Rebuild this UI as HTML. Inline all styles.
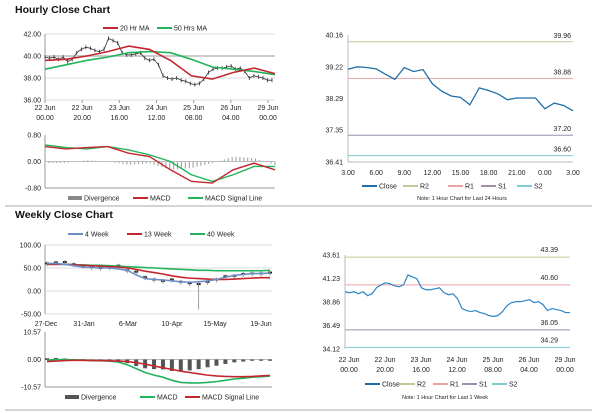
<!DOCTYPE html>
<html><head><meta charset="utf-8"><style>
body{margin:0;background:#fff;}
svg{display:block;font-family:"Liberation Sans",sans-serif;}
</style></head><body>
<svg id="s" width="600" height="413" viewBox="0 0 600 413" xmlns="http://www.w3.org/2000/svg">
<text x="15" y="13" font-size="10.5" font-weight="bold" fill="#111">Hourly Close Chart</text>
<text x="15" y="218" font-size="10.5" font-weight="bold" fill="#111">Weekly Close Chart</text>
<line x1="5" y1="206" x2="592" y2="206" stroke="#aaa" stroke-width="1"/>
<line x1="5" y1="410" x2="592" y2="410" stroke="#aaa" stroke-width="1"/>
</svg>
<script>
// ---------- data ----------
const hourCloseWeek = [39.9,39.8,39.9,39.7,39.9,39.5,39.7,40.3,40.6,40.8,40.7,40.5,40.4,40.6,41.6,41.4,41.2,40.3,40.1,40.1,40.2,40.3,39.8,39.6,39.7,39.2,38.2,38.0,37.9,38.0,37.8,37.7,37.5,37.4,37.5,37.9,38.5,38.8,38.9,38.9,39.0,39.1,38.8,38.9,38.6,38.0,38.2,38.1,38.0,37.8,37.8];
const ma20 = [39.6,39.7,40.0,40.4,40.9,40.6,39.6,38.2,37.9,38.5,38.9,38.4];
const ma50 = [38.8,39.2,39.6,39.9,40.3,40.4,40.3,39.7,39.0,38.8,38.6,38.3];
const macdH = [0.45,0.38,0.42,0.45,0.25,0.15,-0.25,-0.6,-0.65,-0.25,-0.05,-0.25];
const signalH = [0.5,0.42,0.38,0.45,0.35,0.2,0.0,-0.4,-0.6,-0.4,-0.15,-0.15];
const hourLabels1 = ["22 Jun","22 Jun","23 Jun","24 Jun","25 Jun","26 Jun","29 Jun"];
const hourLabels2 = ["00.00","20.00","16.00","12.00","08.00","04.00","00.00"];
const close24 = [39.15,39.22,39.20,39.16,39.0,38.85,39.20,39.08,39.14,38.72,38.5,38.36,38.32,38.10,38.60,38.52,38.42,38.25,38.30,38.30,38.30,37.98,38.15,38.08,37.92];
const ticks24 = ["3.00","6.00","9.00","12.00","15.00","18.00","21.00","0.00","3.00"];
const levels24 = [39.96,38.88,37.20,36.60];
const levelsWeek = [43.39,40.60,36.05,34.29];
const weekClose = [60,62,63,58,55,52,50,52,55,45,42,30,25,22,25,20,17,15,20,25,32,33,37,38,38,40];
const week4 = [60,60,58,55,52,51,50,50,48,45,35,27,25,24,22,20,19,20,22,25,30,34,36,38,38,39];
const week13 = [58,58,58,57,56,55,54,53,52,50,47,43,40,37,33,30,28,27,26,25,25,26,27,28,29,29];
const week40 = [58,58,58,57,57,56,56,55,54,53,52,51,50,49,48,47,46,45,45,44,44,44,44,44,44,45];
const macdW = [-0.3,0,0,-0.1,-0.2,-0.4,-0.5,-0.6,-1.0,-2.0,-3.5,-5,-6,-6.8,-8,-8.8,-9,-9,-8.8,-8.5,-8,-7.5,-7.2,-6.8,-6.6,-6.4];
const signalW = [-0.8,-0.6,-0.4,-0.3,-0.3,-0.4,-0.4,-0.5,-0.6,-0.8,-1.2,-1.8,-2.5,-3.2,-3.8,-4.5,-5,-5.5,-6,-6.3,-6.5,-6.6,-6.6,-6.5,-6.3,-6.1];
const weekLabels = ["27-Dec","31-Jan","6-Mar","10-Apr","15-May","19-Jun"];

const S = document.getElementById('s');
const NS = "http://www.w3.org/2000/svg";
function mk(tag, attrs){const e=document.createElementNS(NS,tag);for(const k in attrs)e.setAttribute(k,attrs[k]);S.appendChild(e);return e;}
function lin(x0,x1,n){return i=>x0+(x1-x0)*i/(n-1);}
function sc(v0,v1,p0,p1){return v=>p0+(v-v0)*(p1-p0)/(v1-v0);}
function poly(arr,fx,fy,col,w,name){const e=mk('polyline',{points:arr.map((v,i)=>fx(i)+','+fy(v)).join(' '),fill:'none',stroke:col,'stroke-width':w});


return e;}
function txt(x,y,s,anchor,size,name){const e=mk('text',{x:x,y:y,'font-size':size||7,'text-anchor':anchor||'start',fill:'#222'});e.textContent=s;


return e;}
function hl(x1,x2,y,col,w,name){const e=mk('line',{x1:x1,x2:x2,y1:y,y2:y,stroke:col,'stroke-width':w||1});


return e;}
function vl(x,y1,y2,col,w,name){const e=mk('line',{x1:x,x2:x,y1:y1,y2:y2,stroke:col,'stroke-width':w||1});


return e;}
function legLine(x,y,col,label,name){hl(x,x+15,y,col,2,name+'-swatch');txt(x+17,y+2.5,label,'start',7,name+'-label');}
function legBox(x,y,col,label,name){const r=mk('rect',{x:x,y:y-2,width:14,height:4,fill:col});


txt(x+16,y+2.5,label,'start',7,name+'-label');}

const RED='#c4262e', GREEN='#22b35b';
// ---------- hourly top-left ----------
{const x0=45,x1=275,y=sc(36,42,100,34);
[42,40,38,36].forEach(v=>{hl(x0,x1,y(v),v==40?'#ccc':'#ddd',v==40?2:1,'hourly-gridline');txt(x0-4,y(v)+2.5,v.toFixed(2),'end',7,'hourly-y-tick');});
vl(x0,34,100,'#999',1,'hourly-y-axis');
const fx=lin(x0,272,hourCloseWeek.length);
poly(hourCloseWeek,fx,y,'#333',0.8,'hourly-close-candles');
hourCloseWeek.forEach((v,i)=>{vl(fx(i),y(v)-2,y(v)+2,'#333',0.8,'hourly-candle');});
const fm=lin(x0,x1,ma20.length);
poly(ma50,fm,y,GREEN,1.6,'ma50-line');poly(ma20,fm,y,RED,1.6,'ma20-line');
const fl=lin(x0,268,hourLabels1.length);
hourLabels1.forEach((s,i)=>{txt(fl(i),110,s,'middle',7,'hourly-x-tick');txt(fl(i),120,hourLabels2[i],'middle',7,'hourly-x-tick');vl(fl(i),100,103,'#999',1,'hourly-x-tickmark');});
legLine(103,28,RED,'20 Hr MA','legend-ma20');legLine(157,28,GREEN,'50 Hrs MA','legend-ma50');
// macd
const ym=sc(-0.8,0.8,188,135);
[0.8,0,-0.8].forEach(v=>txt(x0-4,ym(v)+2.5,v.toFixed(2),'end',7,'macd-y-tick'));
vl(x0,135,188,'#999',1,'macd-y-axis');hl(x0,x1,188,'#999',1,'macd-x-axis');
const n=60, fd=lin(x0,x1,n);
for(let i=0;i<n;i++){const t=i/(n-1)*(macdH.length-1),k=Math.floor(t),f=t-k,k2=Math.min(k+1,macdH.length-1);
 const d=(macdH[k]*(1-f)+macdH[k2]*f)-(signalH[k]*(1-f)+signalH[k2]*f);
 vl(fd(i),ym(0),ym(d),'#999',1,'divergence-bar');}
hl(x0,x1,ym(0),'#bbb',1,'macd-zero-line');
poly(signalH,fm,ym,GREEN,1.4,'macd-signal-line');poly(macdH,fm,ym,RED,1.4,'macd-line');
legBox(68,198,'#888','Divergence','legend-divergence');legLine(133,198,RED,'MACD','legend-macd');legLine(188,198,GREEN,'MACD Signal Line','legend-signal');
}
// ---------- 24h top-right ----------
{const x0=348,x1=573,y=sc(36.41,40.16,162,35);
vl(x0,35,162,'#bbb',1,'h24-y-axis');hl(x0,x1,162,'#bbb',1,'h24-x-axis');
[40.16,39.22,38.29,37.35,36.41].forEach(v=>txt(x0-5,y(v)+2.5,v.toFixed(2),'end',7,'h24-y-tick'));
const cols=['#c8c89a','#e8a3a3','#9e8fad','#7fc8d6'],nm=['r2','r1','s1','s2'];
levels24.forEach((v,i)=>{hl(x0,x1,y(v),cols[i],1,'h24-'+nm[i]+'-line');txt(x1-2,y(v)-4,v.toFixed(2),'end',7,'h24-'+nm[i]+'-label');});
poly(close24,lin(x0,x1,close24.length),y,'#1f6fa8',1.3,'h24-close-line');
const ft=lin(x0,x1,ticks24.length);ticks24.forEach((s,i)=>txt(ft(i),175,s,'middle',7,'h24-x-tick'));
legLine(362,186,'#1f6fa8','Close','legend-close');legLine(403,186,cols[0],'R2','legend-r2');legLine(448,186,cols[1],'R1','legend-r1');legLine(481,186,cols[2],'S1','legend-s1');legLine(517,186,cols[3],'S2','legend-s2');
txt(462,200,'Note: 1 Hour Chart for Last 24 Hours','middle',5.5,'h24-note');
}
// ---------- weekly bottom-left ----------
{const x0=45,x1=272,y=sc(-50,100,314,245);
[100,50,0,-50].forEach(v=>{txt(x0-4,y(v)+2.5,v.toFixed(2),'end',7,'weekly-y-tick');hl(x0,x1,y(v),'#ddd',1,'weekly-gridline');});
vl(x0,245,314,'#999',1,'weekly-y-axis');
const fx=lin(x0+2,x1-2,weekClose.length);
weekClose.forEach((v,i)=>{hl(fx(i)-2,fx(i)+2,y(v),'#222',2,'weekly-close-mark');vl(fx(i),y(v)-2,y(v)+3,'#888',0.8,'weekly-wick');});
vl(fx(17),y(weekClose[17]),y(-40),'#888',0.8,'weekly-low-spike');
poly(week40,fx,y,GREEN,1.6,'week40-line');poly(week13,fx,y,RED,1.6,'week13-line');poly(week4,fx,y,'#6d8fc7',1.6,'week4-line');
const fl=[46,84,128,172,215,261];weekLabels.forEach((s,i)=>txt(fl[i],326,s,'middle',7,'weekly-x-tick'));
legLine(68,234,'#6d8fc7','4 Week','legend-4week');legLine(127,234,RED,'13 Week','legend-13week');legLine(190,234,GREEN,'40 Week','legend-40week');
const ym=sc(-10.57,10.57,387,332);
[10.57,0,-10.57].forEach(v=>txt(x0-4,ym(v)+2.5,v.toFixed(2),'end',7,'weekly-macd-y-tick'));
vl(x0,332,387,'#999',1,'weekly-macd-y-axis');hl(x0,x1,387,'#999',1,'weekly-macd-x-axis');hl(x0,x1,ym(0),'#bbb',1,'weekly-macd-zero');
macdW.forEach((v,i)=>{const d=v-signalW[i];const r=mk('rect',{x:fx(i)-2,y:Math.min(ym(0),ym(d)),width:4,height:Math.abs(ym(d)-ym(0))+0.5,fill:'#555'});

});
poly(macdW,fx,ym,GREEN,1.6,'weekly-macd-line');poly(signalW,fx,ym,RED,1.6,'weekly-signal-line');
legBox(65,397,'#555','Divergence','legend-weekly-divergence');legLine(140,397,GREEN,'MACD','legend-weekly-macd');legLine(185,397,RED,'MACD Signal Line','legend-weekly-signal');
}
// ---------- week hourly bottom-right ----------
{const x0=345,x1=570,y=sc(34.12,43.61,349,255);
vl(x0,255,349,'#bbb',1,'wk-y-axis');
[43.61,41.23,38.86,36.49,34.12].forEach(v=>txt(x0-5,y(v)+2.5,v.toFixed(2),'end',7,'wk-y-tick'));
const cols=['#c8c89a','#e8a3a3','#9e8fad','#7fc8d6'],nm=['r2','r1','s1','s2'];
levelsWeek.forEach((v,i)=>{hl(x0,x1,y(v),cols[i],1,'wk-'+nm[i]+'-line');txt(x1-12,y(v)-5,v.toFixed(2),'end',7,'wk-'+nm[i]+'-label');});
poly(hourCloseWeek,lin(x0,x1,hourCloseWeek.length),y,'#2a86c8',1.2,'wk-close-line');
const fl=lin(349,565,hourLabels1.length);
hourLabels1.forEach((s,i)=>{txt(fl(i),362,s,'middle',7,'wk-x-tick');txt(fl(i),372,hourLabels2[i],'middle',7,'wk-x-tick');});
legLine(365,384,'#1f6fa8','Close','legend-wk-close');legLine(400,384,cols[0],'R2','legend-wk-r2');legLine(433,384,cols[1],'R1','legend-wk-r1');legLine(462,384,cols[2],'S1','legend-wk-s1');legLine(492,384,cols[3],'S2','legend-wk-s2');
txt(445,399,'Note: 1 Hour Chart for Last 1 Week','middle',5.5,'wk-note');
}
</script>
</body></html>
